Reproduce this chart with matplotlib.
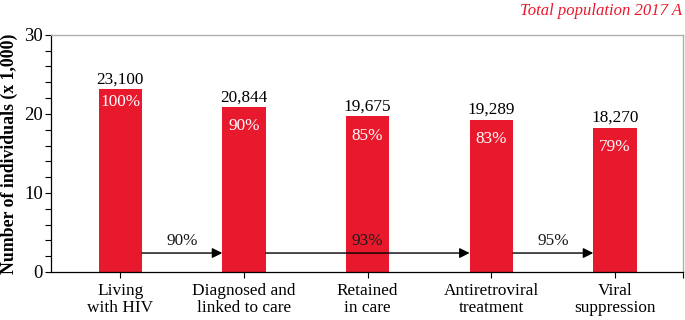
import matplotlib
matplotlib.use("Agg")
import matplotlib.pyplot as plt
from matplotlib.ticker import MultipleLocator

# cascade stages and counts (x 1,000)
stages = ["Living\nwith HIV", "Diagnosed and\nlinked to care", "Retained\nin care",
          "Antiretroviral\ntreatment", "Viral\nsuppression"]
counts = [23.100, 20.844, 19.675, 19.289, 18.270]
count_labels = ["23,100", "20,844", "19,675", "19,289", "18,270"]
pct_labels = ["100%", "90%", "85%", "83%", "79%"]

# step-to-step conversion arrows: (from stage, to stage, label)
arrow_from = [0, 1, 3]
arrow_to = [1, 3, 4]
arrow_labels = ["90%", "93%", "95%"]

red = "#E8192C"
plt.rcParams["font.family"] = ["Liberation Serif", "DejaVu Serif"]

fig = plt.figure(figsize=(6.85, 3.2), dpi=100)
ax = fig.add_axes([0.0745, 0.15, 0.9225, 0.741])

x = list(range(len(stages)))
w = 0.35
ax.bar(x, counts, width=w, color=red, zorder=2)

fs = 12.4
for i in x:
    ax.annotate(count_labels[i], (i, counts[i]), xytext=(0, 1.5), textcoords="offset points",
                ha="center", va="bottom", fontsize=fs, color="black")
    # the wide "100%" sits right under the top, the others a little lower
    off = -3.5 if i == 0 else -8
    ax.annotate(pct_labels[i], (i, counts[i]), xytext=(0, off), textcoords="offset points",
                ha="center", va="top", fontsize=fs, color="white", zorder=3)

arrow_y = 2.4
for a, b, lab in zip(arrow_from, arrow_to, arrow_labels):
    ax.annotate("", xy=(b - w / 2, arrow_y), xytext=(a + w / 2, arrow_y),
                arrowprops=dict(arrowstyle="-|>", color="black", lw=1.0,
                                mutation_scale=15, shrinkA=0, shrinkB=0), zorder=4)
    ax.text((a + b) / 2, arrow_y + 0.45, lab, ha="center", va="bottom",
            fontsize=fs, color="#1a1a1a", zorder=4)

xmax = 4.55
ax.set_xlim(-0.56, xmax)
ax.set_ylim(0, 30)
ax.set_xticks(x + [xmax])
ax.set_xticklabels(stages + [""], fontsize=fs, linespacing=1.1)
ax.yaxis.set_major_locator(MultipleLocator(10))
ax.yaxis.set_minor_locator(MultipleLocator(2))
ax.tick_params(axis="y", which="both", length=4, width=0.8, labelsize=13.5, pad=2)
ax.tick_params(axis="x", length=4, width=0.8, pad=4)

for s in ["top", "right"]:
    ax.spines[s].set_color("#b0b0b0")
    ax.spines[s].set_linewidth(1.0)
for s in ["left", "bottom"]:
    ax.spines[s].set_color("black")
    ax.spines[s].set_linewidth(0.9)

ax.set_ylabel("Number of individuals (x 1,000)", fontsize=12.8, fontweight="bold", labelpad=4)
fig.text(0.996, 0.965, "Total population 2017 A", ha="right", va="center",
         fontsize=12, style="italic", color=red)

fig.savefig("out.png", dpi=100)
